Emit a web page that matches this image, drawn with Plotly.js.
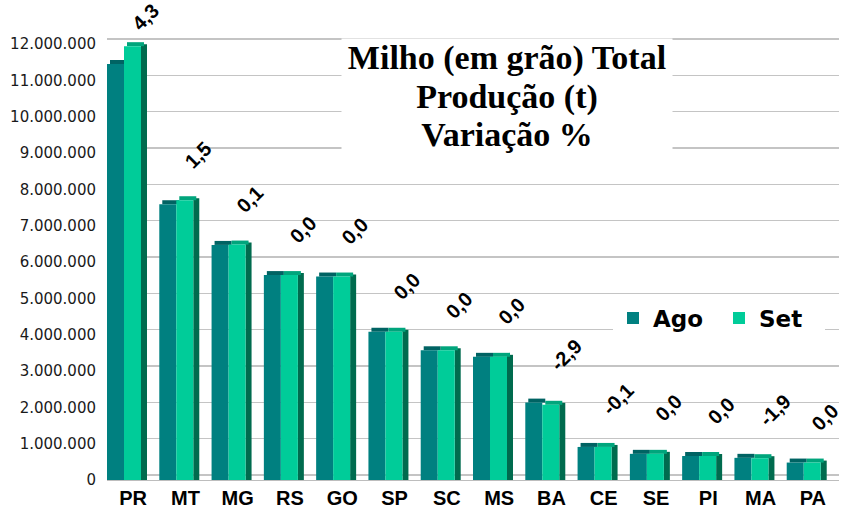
<!DOCTYPE html>
<html>
<head>
<meta charset="utf-8">
<script src="https://cdn.plot.ly/plotly-3.0.1.min.js"></script>
<style>html,body{margin:0;padding:0;background:#fff}#chart{width:843px;height:508px}</style>
</head>
<body>
<div id="chart"></div>
<script>
// ---- data ----
const states = ['PR','MT','MG','RS','GO','SP','SC','MS','BA','CE','SE','PI','MA','PA'];
const ago = [11450000, 7590000, 6470000, 5640000, 5600000, 4080000, 3570000, 3390000, 2130000, 910000, 720000, 660000, 610000, 480000];
const set = [11940000, 7700000, 6480000, 5640000, 5600000, 4080000, 3570000, 3390000, 2070000, 910000, 720000, 660000, 600000, 480000];
const variation = [4.3, 1.5, 0.1, 0.0, 0.0, 0.0, 0.0, 0.0, -2.9, -0.1, 0.0, 0.0, -1.9, 0.0];
const yTicks = [0,1000000,2000000,3000000,4000000,5000000,6000000,7000000,8000000,9000000,10000000,11000000,12000000];
const titleLines = ['Milho (em grão) Total', 'Produção (t)', 'Variação %'];
const seriesNames = ['Ago', 'Set'];

// ---- geometry / style ----
const W = 843, H = 508;
const M = {l: 107, r: 4, t: 37, b: 28};
const plotW = W - M.l - M.r;
const plotH = H - M.t - M.b;
const catPx = plotW / states.length;
const pxPerUnit = 436 / 12000000;
const yTop = plotH / pxPerUnit;
const wallShiftPx = 5;
const depthXPx = 6, depthYPx = 4;
const barPx = 17;

const u = px => px / catPx;
const dz = depthYPx / pxPerUnit;
const agoOff = -0.5, barW = u(barPx);
const setOff = agoOff + barW;
const sideOff = setOff + barW;

const C = {ago: '#008080', set: '#00CC99', agoTop: '#006363', setTop: '#00A57C', side: '#006B4E'};

const traces = [
  {type: 'bar', x: states, y: set.map(v => v + dz * 0.5), offset: sideOff, width: u(depthXPx),
   marker: {color: C.side}, showlegend: false, hoverinfo: 'skip'},
  {type: 'bar', x: states, y: ago.map(() => dz), base: ago, offset: agoOff + u(depthXPx / 2), width: barW,
   marker: {color: C.agoTop}, showlegend: false, hoverinfo: 'skip'},
  {type: 'bar', x: states, y: set.map(() => dz), base: set, offset: setOff + u(depthXPx / 2), width: barW,
   marker: {color: C.setTop}, showlegend: false, hoverinfo: 'skip'},
  {type: 'bar', name: seriesNames[0], x: states, y: ago, offset: agoOff, width: barW,
   marker: {color: C.ago}},
  {type: 'bar', name: seriesNames[1], x: states, y: set, offset: setOff, width: barW,
   marker: {color: C.set}},
  // invisible helper so the back-wall grid axis is drawn
  {type: 'scatter', x: states, y: set, yaxis: 'y2', mode: 'none', showlegend: false, hoverinfo: 'skip'}
];

const fmt = v => v.toFixed(1).replace('.', ',');
const labelLift = 25, labelMinBottom = 38;
const labelAnns = states.map((s, i) => {
  const v = Math.max(ago[i], set[i]);
  const topPx = M.t + plotH - v * pxPerUnit;
  const bottomPx = Math.max(topPx - labelLift, labelMinBottom);
  return {
    xref: 'x', yref: 'y', x: s, y: v, text: fmt(variation[i]), showarrow: false,
    textangle: -45, xanchor: 'left', yanchor: 'bottom', xshift: -8, yshift: topPx - bottomPx,
    font: {family: 'Liberation Sans, Arial, sans-serif', size: 20, color: '#000', weight: 'bold'}
  };
});

const titleY = [58, 97, 134];
const titleAnns = titleLines.map((t, i) => ({
  xref: 'paper', yref: 'paper', x: (507 - M.l) / plotW, y: (M.t + plotH - titleY[i]) / plotH,
  xanchor: 'center', yanchor: 'middle', text: t, showarrow: false, width: 330, align: 'center',
  bgcolor: '#ffffff', borderpad: 0,
  font: {family: 'Liberation Serif, Times New Roman, serif', size: 34, color: '#000', weight: 'bold'}
}));

const layout = {
  width: W, height: H,
  margin: M,
  paper_bgcolor: '#fff', plot_bgcolor: '#fff',
  separators: ',.',
  barmode: 'overlay',
  showlegend: true,
  legend: {
    orientation: 'h', x: (613 - M.l) / plotW, y: (M.t + plotH - 318) / plotH,
    xanchor: 'left', yanchor: 'middle', bgcolor: '#ffffff', entrywidth: 61, entrywidthmode: 'pixels',
    font: {family: 'DejaVu Sans, sans-serif', size: 23, color: '#000', weight: 'bold'}
  },
  xaxis: {
    type: 'category', range: [-0.5, states.length - 0.5], showgrid: false, zeroline: false,
    showline: true, linecolor: '#bdbdbd', linewidth: 1, ticks: '',
    tickfont: {family: 'Liberation Sans, Arial, sans-serif', size: 20, color: '#000', weight: 'bold'}
  },
  yaxis: {
    range: [0, yTop], tickvals: yTicks, tickformat: ',d', showgrid: false, zeroline: false,
    showline: false, ticks: 'outside', ticklen: 7, tickcolor: 'rgba(0,0,0,0)',
    tickfont: {family: 'DejaVu Sans, sans-serif', size: 15, color: '#1a1a1a'}
  },
  yaxis2: {
    overlaying: 'y', side: 'left', range: [-wallShiftPx / pxPerUnit, yTop - wallShiftPx / pxPerUnit],
    tickvals: yTicks, showticklabels: false, showgrid: true, gridcolor: '#c4c4c4', gridwidth: 1.3,
    zeroline: false, showline: false, ticks: ''
  },
  annotations: labelAnns.concat(titleAnns)
};

Plotly.newPlot('chart', traces, layout, {displayModeBar: false, staticPlot: true});
</script>
</body>
</html>
